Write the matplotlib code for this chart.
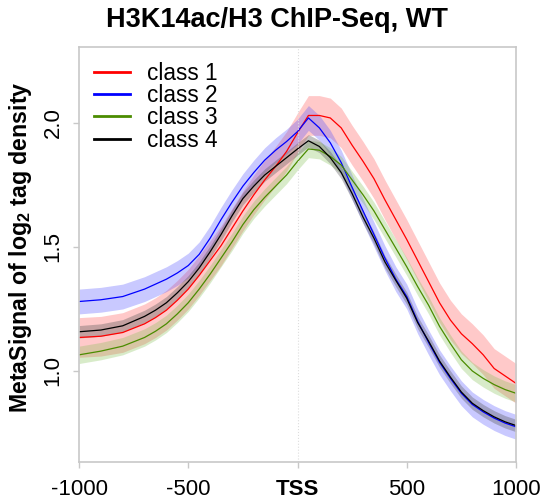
import matplotlib
matplotlib.use("Agg")
import matplotlib.pyplot as plt
import numpy as np

plt.rcParams['font.family'] = ['Liberation Sans', 'DejaVu Sans']
plt.rcParams['mathtext.fontset'] = 'custom'
plt.rcParams['mathtext.rm'] = 'Liberation Sans'
plt.rcParams['mathtext.bf'] = 'Liberation Sans:bold'

positions = [-1000, -900, -800, -700, -650, -600, -550, -500, -450, -400, -350, -300, -250,
             -200, -150, -100, -50, 0, 50, 100, 150, 200, 250, 300, 350, 400, 450,
             500, 550, 600, 650, 700, 750, 800, 850, 900, 950, 1000]

class1 = [1.135, 1.14, 1.155, 1.19, 1.215, 1.245, 1.285, 1.33, 1.385, 1.445, 1.505, 1.575, 1.645,
          1.71, 1.77, 1.825, 1.885, 1.96, 2.03, 2.03, 2.02, 1.98, 1.91, 1.845, 1.775, 1.69, 1.61,
          1.53, 1.445, 1.36, 1.275, 1.205, 1.15, 1.11, 1.065, 1.01, 0.98, 0.95]
class2 = [1.28, 1.287, 1.30, 1.33, 1.35, 1.37, 1.395, 1.425, 1.47, 1.535, 1.61, 1.68, 1.745,
          1.80, 1.85, 1.89, 1.925, 1.965, 2.02, 1.98, 1.92, 1.84, 1.74, 1.645, 1.55, 1.455, 1.37,
          1.30, 1.20, 1.115, 1.035, 0.97, 0.91, 0.865, 0.835, 0.81, 0.79, 0.775]
class3 = [1.065, 1.08, 1.10, 1.135, 1.16, 1.19, 1.23, 1.275, 1.33, 1.39, 1.455, 1.52, 1.59,
          1.65, 1.70, 1.745, 1.79, 1.845, 1.895, 1.89, 1.865, 1.83, 1.77, 1.71, 1.645, 1.57, 1.495,
          1.42, 1.34, 1.265, 1.18, 1.11, 1.045, 1.00, 0.97, 0.945, 0.925, 0.91]
class4 = [1.158, 1.165, 1.182, 1.22, 1.245, 1.275, 1.315, 1.36, 1.415, 1.48, 1.55, 1.625, 1.695,
          1.745, 1.79, 1.825, 1.86, 1.895, 1.928, 1.905, 1.86, 1.80, 1.715, 1.62, 1.535, 1.44, 1.365,
          1.293, 1.195, 1.12, 1.04, 0.975, 0.915, 0.87, 0.84, 0.815, 0.795, 0.78]

band_halfwidth = {"class 1": 0.08, "class 2": 0.05, "class 3": 0.035, "class 4": 0.025}
labels = ["class 1", "class 2", "class 3", "class 4"]
series = [class1, class2, class3, class4]
line_colors = ["#ff0000", "#0000ff", "#4b8c00", "#000000"]
band_colors = ["#ff4d4d", "#4d4dff", "#7fbf4f", "#555555"]
band_alpha = [0.3, 0.3, 0.3, 0.35]

xticks = [-1000, -500, 0, 500, 1000]
xticklabels = ["-1000", "-500", "TSS", "500", "1000"]
yticks = [1.0, 1.5, 2.0]
yticklabels = ["1.0", "1.5", "2.0"]

fig = plt.figure(figsize=(5.45, 5.04), dpi=100)
ax = fig.add_axes([79/545, 42/504, (516-79)/545, (462-47)/504])

x = np.array(positions)
for lab, ys, lc, bc, a in zip(labels, series, line_colors, band_colors, band_alpha):
    ys = np.array(ys)
    hw = band_halfwidth[lab]
    ax.fill_between(x, ys - hw, ys + hw, color=bc, alpha=a, linewidth=0)
for lab, ys, lc in zip(labels, series, line_colors):
    ax.plot(x, ys, color=lc, linewidth=0.9, label=lab)

ax.axvline(0, color="#dddddd", linewidth=0.8, linestyle=":")

ax.set_xlim(-1000, 1000)
ax.set_ylim(0.633, 2.306)
ax.set_xticks(xticks)
ax.set_xticklabels(xticklabels, fontsize=16)
ax.get_xticklabels()[2].set_fontweight("bold")
ax.set_yticks(yticks)
ax.set_yticklabels(yticklabels, fontsize=16, rotation=90, va="center")
for s in ax.spines.values():
    s.set_color("#c8c8c8")
    s.set_linewidth(1.2)
ax.tick_params(axis="both", colors="#c8c8c8", length=4, width=1, labelcolor="black")
ax.tick_params(axis="x", pad=8)
ax.tick_params(axis="y", pad=7)

ax.set_ylabel(r"MetaSignal of log$_\mathbf{2}$ tag density", fontsize=16.7, fontweight="bold")
ax.yaxis.set_label_coords(-0.103, 0.517)
fig.text(277/545, 1 - 20/504, "H3K14ac/H3 ChIP-Seq, WT", fontsize=19.5, fontweight="bold",
         ha="center", va="center")

leg = ax.legend(loc="upper left", frameon=False, fontsize=16.3, handlelength=1.6,
                handletextpad=0.75, labelspacing=-0.03, borderaxespad=0.25,
                bbox_to_anchor=(0.0, 1.0))
for h in leg.get_lines():
    h.set_linewidth(2)

fig.savefig("out.png", dpi=100)
